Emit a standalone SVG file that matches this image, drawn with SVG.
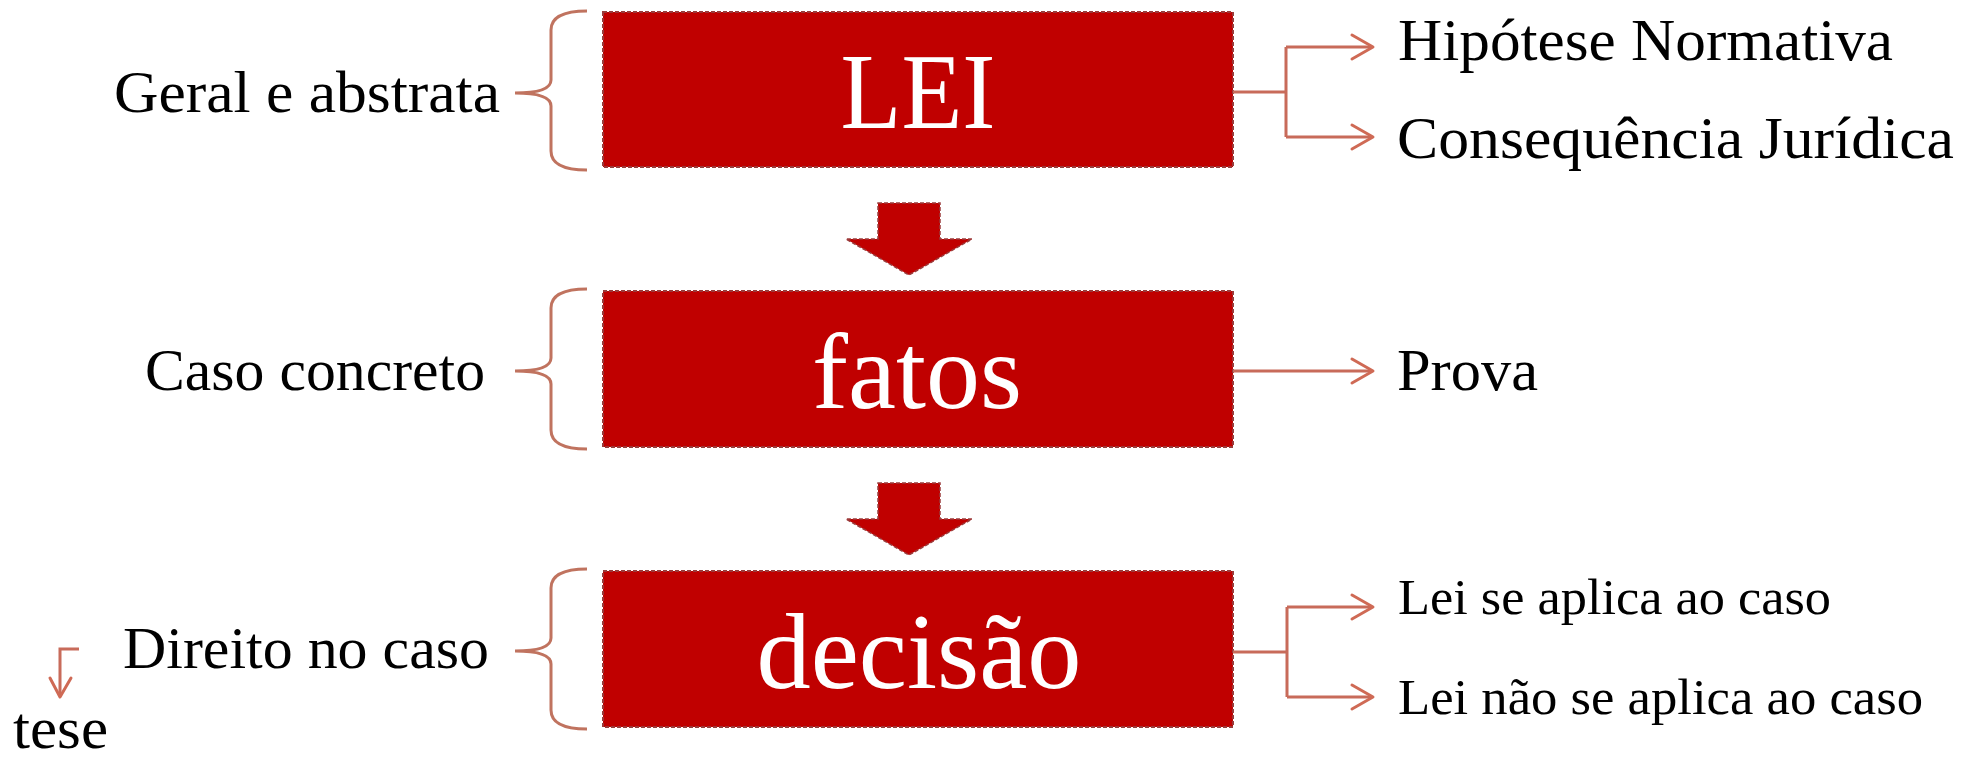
<svg xmlns="http://www.w3.org/2000/svg" width="1977" height="762" viewBox="0 0 1977 762">
<style>
  .box { fill: #c00000; stroke: #9a3b3b; stroke-width: 2; stroke-dasharray: 4 2; }
  .blk { fill: #c00000; stroke: #9a3b3b; stroke-width: 1.5; stroke-dasharray: 4 2; }
  .big { font-family: "Liberation Serif", "Times New Roman", serif; font-size: 108px; fill: #ffffff; text-anchor: middle; }
  .lbl { font-family: "Liberation Serif", "Times New Roman", serif; font-size: 60px; fill: #000000; }
  .sm { font-family: "Liberation Serif", "Times New Roman", serif; font-size: 50px; fill: #000000; }
  .brace { fill: none; stroke: #c0735f; stroke-width: 3; }
  .conn { fill: none; stroke: #c86b5a; stroke-width: 3; }
  .head { fill: none; stroke: #cf6a55; stroke-width: 3; stroke-linecap: round; stroke-linejoin: round; }
</style>
<rect width="1977" height="762" fill="#ffffff"/>

<g id="node-lei">
  <rect class="box" x="603" y="12" width="630" height="155"/>
  <text class="big" x="918" y="128" font-size="104" textLength="155" lengthAdjust="spacingAndGlyphs">LEI</text>
</g>
<g id="node-fatos">
  <rect class="box" x="603" y="291" width="630" height="156"/>
  <text class="big" x="917" y="408" textLength="210" lengthAdjust="spacingAndGlyphs">fatos</text>
</g>
<g id="node-decisao">
  <rect class="box" x="603" y="571" width="630" height="156"/>
  <text class="big" x="919" y="688" textLength="325" lengthAdjust="spacingAndGlyphs">decisão</text>
</g>

<g id="arrow-1">
  <polygon class="blk" points="878,203 940,203 940,239 972,239 909,275 846,239 878,239"/>
</g>
<g id="arrow-2">
  <polygon class="blk" points="878,483 940,483 940,519 972,519 909,555 846,519 878,519"/>
</g>

<g id="label-geral">
  <path class="brace" d="M587,11 Q551,11 551,30 L551,80 Q551,93 515,93 Q551,93 551,106 L551,151 Q551,170 587,170"/>
  <text class="lbl" x="114" y="112" textLength="386" lengthAdjust="spacingAndGlyphs">Geral e abstrata</text>
</g>
<g id="label-caso">
  <path class="brace" d="M587,289 Q551,289 551,308 L551,358 Q551,371 515,371 Q551,371 551,384 L551,430 Q551,449 587,449"/>
  <text class="lbl" x="145" y="390" textLength="340" lengthAdjust="spacingAndGlyphs">Caso concreto</text>
</g>
<g id="label-direito">
  <path class="brace" d="M587,569 Q551,569 551,588 L551,638 Q551,651 515,651 Q551,651 551,664 L551,710 Q551,729 587,729"/>
  <text class="lbl" x="123" y="668" textLength="366" lengthAdjust="spacingAndGlyphs">Direito no caso</text>
</g>
<g id="label-tese">
  <text class="lbl" x="13" y="748" textLength="95" lengthAdjust="spacingAndGlyphs">tese</text>
</g>

<g id="label-hipotese">
  <text class="lbl" x="1398" y="60" textLength="495" lengthAdjust="spacingAndGlyphs">Hipótese Normativa</text>
</g>
<g id="label-consequencia">
  <text class="lbl" x="1397" y="158" textLength="557" lengthAdjust="spacingAndGlyphs">Consequência Jurídica</text>
</g>
<g id="label-prova">
  <text class="lbl" x="1397" y="390" textLength="141" lengthAdjust="spacingAndGlyphs">Prova</text>
</g>
<g id="label-aplica">
  <text class="sm" x="1398" y="614" textLength="433" lengthAdjust="spacingAndGlyphs">Lei se aplica ao caso</text>
</g>
<g id="label-naoaplica">
  <text class="sm" x="1398" y="714" textLength="525" lengthAdjust="spacingAndGlyphs">Lei não se aplica ao caso</text>
</g>

<g id="connectors">
  <path class="conn" d="M1233,92 L1286,92 M1286,47 L1286,137 M1286,47 L1372,47 M1286,137 L1372,137"/>
  <path class="head" d="M1352,35 L1373,47 L1352,59 M1352,125 L1373,137 L1352,149"/>
  <path class="conn" d="M1233,371 L1372,371"/>
  <path class="head" d="M1352,359 L1373,371 L1352,383"/>
  <path class="conn" d="M1233,652 L1287,652 M1287,607 L1287,697 M1287,607 L1372,607 M1287,697 L1372,697"/>
  <path class="head" d="M1352,595 L1373,607 L1352,619 M1352,685 L1373,697 L1352,709"/>
  <path class="conn" d="M79,649 L60,649 L60,696"/>
  <path class="head" d="M50,678 L60,697 L71,678"/>
</g>
</svg>
